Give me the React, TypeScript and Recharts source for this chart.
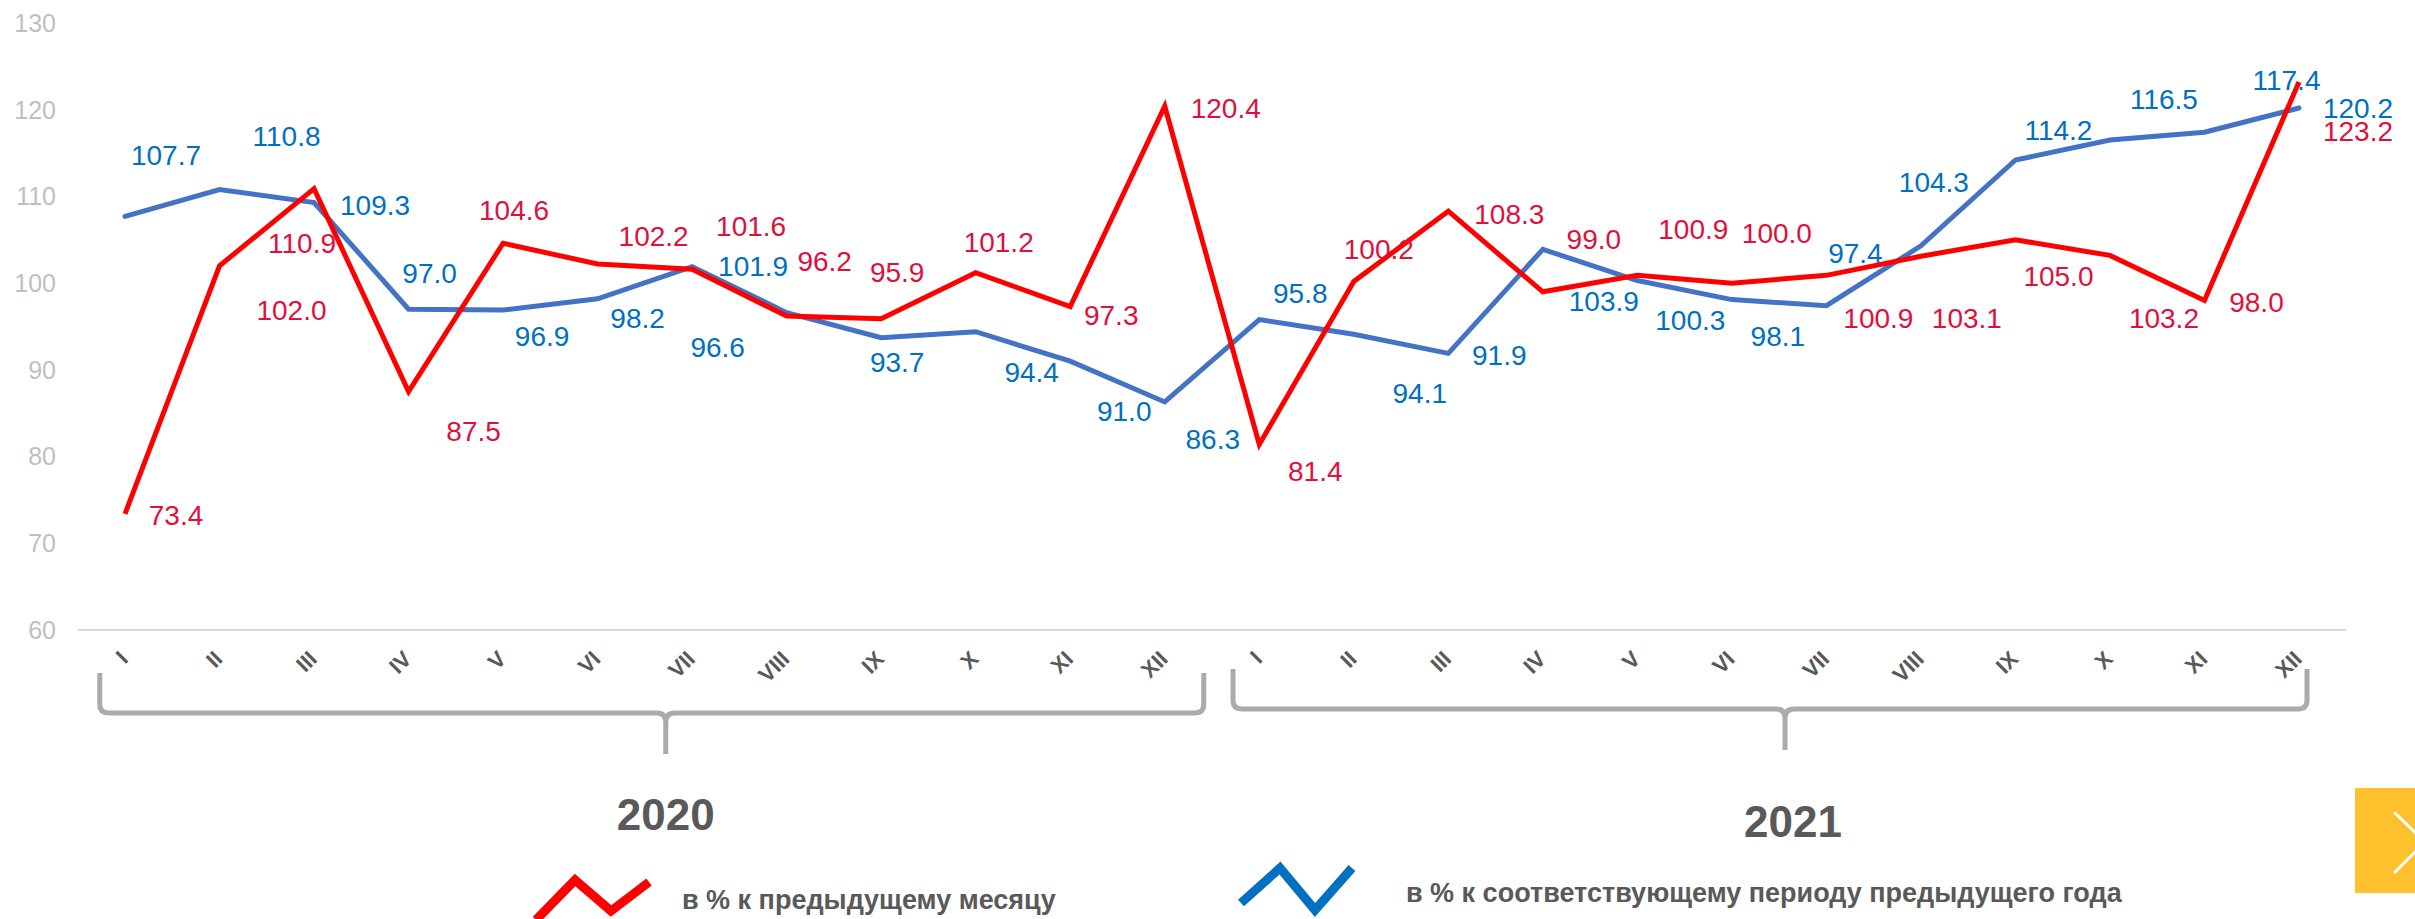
import React from 'react';
import { LineChart, Line, XAxis, YAxis, LabelList, Legend } from 'recharts';

const MONTHS = ['I', 'II', 'III', 'IV', 'V', 'VI', 'VII', 'VIII', 'IX', 'X', 'XI', 'XII'];
const YEARS = ['2020', '2021'];

// в % к предыдущему месяцу
const MOM = [
  73.4, 102.0, 110.9, 87.5, 104.6, 102.2, 101.6, 96.2, 95.9, 101.2, 97.3, 120.4,
  81.4, 100.2, 108.3, 99.0, 100.9, 100.0, 100.9, 103.1, 105.0, 103.2, 98.0, 123.2,
];
// в % к соответствующему периоду предыдущего года
const YOY = [
  107.7, 110.8, 109.3, 97.0, 96.9, 98.2, 101.9, 96.6, 93.7, 94.4, 91.0, 86.3,
  95.8, 94.1, 91.9, 103.9, 100.3, 98.1, 97.4, 104.3, 114.2, 116.5, 117.4, 120.2,
];
const Y_TICKS = [60, 70, 80, 90, 100, 110, 120, 130];
const MOM_NAME = 'в % к предыдущему месяцу';
const YOY_NAME = 'в % к соответствующему периоду предыдущего года';

// label placement (dx, dy from the point), as in the original slide
const MOM_LABEL_POS = [
  [51, 2], [72, 45], [-12, 55], [65, 40], [11, -33], [56, -28], [59, -43], [38, -55],
  [16, -46], [23, -30], [41, 9], [61, 2], [56, 27], [25, -32], [61, 3], [51, -52],
  [56, -46], [45, -50], [52, 43], [46, 62], [43, 37], [54, 63], [52, 2], [59, 50],
];
const YOY_LABEL_POS = [
  [41, -61], [67, -53], [61, 3], [21, -36], [39, 26], [40, 20], [61, 0], [-69, 35],
  [16, 25], [56, 41], [54, 50], [48, 38], [41, -26], [66, 59], [51, 2], [61, 52],
  [53, 40], [46, 37], [29, -52], [13, -63], [43, -30], [54, -41], [82, -52], [59, 1],
];
// brace under each year: insets from the year's band edges, shift of the middle
const BRACES = [
  { left: 22, right: 8, mid: 21, dy: 0, textShift: 0, textDy: 200 },
  { left: 21, right: 39, mid: 6, dy: -4, textShift: 8, textDy: 207 },
];

const FONT = '"Liberation Sans", Arial, sans-serif';
const RED = '#ff0000';
const BLUE = '#4472c4';
const RED_TEXT = '#e0103c';
const BLUE_TEXT = '#0070c0';
const GREY_TEXT = '#595959';
const HALF_BAND = 47;

const chartData = YEARS.flatMap((year, yi) =>
  MONTHS.map((month, mi) => ({
    key: `${month} ${year}`,
    month,
    year,
    mom: MOM[yi * 12 + mi],
    yoy: YOY[yi * 12 + mi],
  }))
);

const makeLabel = (pos: number[][], color: string) => (props: any) => {
  const vb = props.viewBox || {};
  const x = props.x ?? vb.x;
  const y = props.y ?? vb.y;
  const index = props.index;
  if (x == null || y == null || index == null || !pos[index]) return null;
  const [dx, dy] = pos[index];
  return (
    <text
      x={x + dx}
      y={y + dy}
      textAnchor="middle"
      dominantBaseline="central"
      fill={color}
      fontSize={28}
      fontFamily={FONT}
    >
      {Number(props.value).toFixed(1)}
    </text>
  );
};

const MonthTick = (props: any) => {
  const { x, y, payload } = props;
  const i = payload?.index ?? props.index ?? 0;
  const row = chartData[i];
  const half = payload?.offset || 47.25;
  const band = half * 2;
  let brace = null;
  if (i % 12 === 0) {
    const b = BRACES[i / 12];
    const start = x - half;
    const x0 = start + b.left;
    const x1 = start + 12 * band - b.right;
    const xm = start + 6 * band + b.mid;
    const yT = y + 43 + b.dy;
    const yH = y + 83 + b.dy;
    const yTip = y + 124 + b.dy;
    const r = 9;
    const d = `M ${x0} ${yT} L ${x0} ${yH - r} Q ${x0} ${yH} ${x0 + r} ${yH} L ${xm - r} ${yH} Q ${xm} ${yH} ${xm} ${yH + r} L ${xm} ${yTip} M ${xm} ${yH + r} Q ${xm} ${yH} ${xm + r} ${yH} L ${x1 - r} ${yH} Q ${x1} ${yH} ${x1} ${yH - r} L ${x1} ${yT}`;
    brace = (
      <g>
        <path d={d} fill="none" stroke="#aeaaaa" strokeWidth={5} />
        <text
          x={xm + b.textShift}
          y={y + b.textDy}
          textAnchor="middle"
          fill={GREY_TEXT}
          fontSize={44}
          fontWeight="bold"
          fontFamily={FONT}
        >
          {row.year}
        </text>
      </g>
    );
  }
  const ax = x - 1;
  const ay = y + 25;
  return (
    <g>
      <text
        x={ax}
        y={ay}
        transform={`rotate(-45 ${ax} ${ay})`}
        textAnchor="end"
        dominantBaseline="central"
        fill={GREY_TEXT}
        fontSize={22}
        fontWeight="bold"
        fontFamily={FONT}
      >
        {row.month}
      </text>
      {brace}
    </g>
  );
};

const LegendContent = () => (
  <svg width={2415} height={59} style={{ overflow: 'visible', display: 'block' }}>
    <polyline points="536,60 575,20 611,51 649,22" fill="none" stroke={RED} strokeWidth={9} />
    <text x={682} y={49} fill={GREY_TEXT} fontSize={27} fontWeight="bold" fontFamily={FONT}>
      {MOM_NAME}
    </text>
    <polyline points="1241,43 1280,8 1315,50 1352,8" fill="none" stroke={BLUE_TEXT} strokeWidth={9} />
    <text x={1406} y={42} fill={GREY_TEXT} fontSize={27} fontWeight="bold" fontFamily={FONT}>
      {YOY_NAME}
    </text>
  </svg>
);

export default function App() {
  return (
    <div style={{ position: 'absolute', left: 0, top: 0, width: 2415, height: 919, background: '#fff', overflow: 'hidden' }}>
      <LineChart
        width={2415}
        height={919}
        data={chartData}
        margin={{ top: 23, right: 69, bottom: 0, left: 18 }}
      >
        <XAxis
          dataKey="key"
          height={289}
          interval={0}
          padding={{ left: HALF_BAND, right: HALF_BAND }}
          tickLine={false}
          tickSize={0}
          tickMargin={0}
          axisLine={{ stroke: '#d9d9d9', strokeWidth: 2 }}
          tick={<MonthTick />}
        />
        <YAxis
          width={60}
          domain={[60, 130]}
          ticks={Y_TICKS}
          interval={0}
          axisLine={false}
          tickLine={false}
          tickSize={0}
          tickMargin={22}
          tick={{ fill: '#bfbfbf', fontSize: 25, fontFamily: FONT }}
        />
        <Legend
          layout="horizontal"
          verticalAlign="middle"
          align="center"
          wrapperStyle={{ left: 0, top: 860, width: 2415, height: 59 }}
          content={<LegendContent />}
        />
        <Line
          type="linear"
          dataKey="yoy"
          name={YOY_NAME}
          stroke={BLUE}
          strokeWidth={5}
          strokeLinecap="round"
          dot={false}
          activeDot={false}
          isAnimationActive={false}
        >
          <LabelList dataKey="yoy" content={makeLabel(YOY_LABEL_POS, BLUE_TEXT)} />
        </Line>
        <Line
          type="linear"
          dataKey="mom"
          name={MOM_NAME}
          stroke={RED}
          strokeWidth={5}
          dot={false}
          activeDot={false}
          isAnimationActive={false}
        >
          <LabelList dataKey="mom" content={makeLabel(MOM_LABEL_POS, RED_TEXT)} />
        </Line>
      </LineChart>
      <div style={{ position: 'absolute', left: 2355, top: 788, width: 60, height: 105, background: '#fdc12e' }}>
        <svg width={60} height={105} style={{ display: 'block' }}>
          <polyline points="40,25 70,54 40,84" fill="none" stroke="#fff" strokeWidth={3} strokeLinecap="round" />
        </svg>
      </div>
    </div>
  );
}
